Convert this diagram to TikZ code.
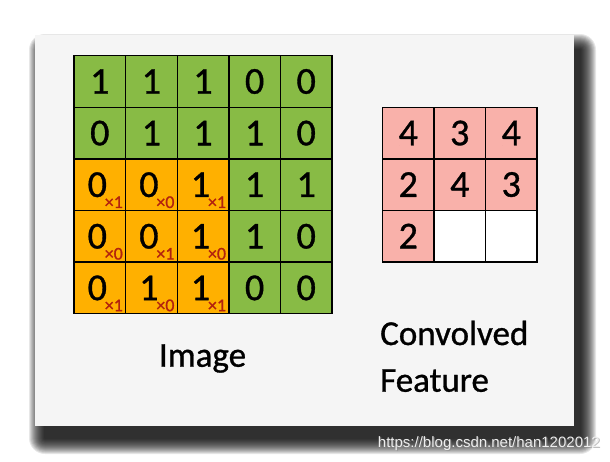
\documentclass[tikz,border=0pt]{standalone}
\usepackage{fontspec}
\setmainfont{Carlito}[FakeBold=0.9]
\newfontfamily\wmfont{Liberation Sans}
\definecolor{panelgray}{HTML}{F5F5F5}
\definecolor{cgreen}{HTML}{88BB45}
\definecolor{corange}{HTML}{FFB000}
\definecolor{cpink}{HTML}{F9B1AA}
\definecolor{kred}{HTML}{B2220E}
\definecolor{wmgray}{HTML}{EEEEEE}
\definecolor{wmshade}{HTML}{8A8A8A}
\tikzset{
  cellbase/.style={draw=black, line width=1.4pt, minimum size=51.6pt, inner sep=0pt, font=\fontsize{38}{40}\selectfont},
  gcell/.style={cellbase, fill=cgreen},
  ocell/.style={cellbase, fill=corange},
  pcell/.style={cellbase, fill=cpink, minimum size=51.5pt},
  wcell/.style={cellbase, fill=white, minimum size=51.5pt},
  ktext/.style={text=kred, font=\fontsize{18}{18}\selectfont, inner sep=0pt},
  lbl/.style={font=\fontsize{35}{38}\selectfont, inner sep=0pt},
  shadowlayer/.style={fill=black, fill opacity=0.095, draw=none},
  wmstyle/.style={font=\wmfont\fontsize{15}{15}\selectfont, anchor=base east, inner sep=0pt},
}
\begin{document}
\begin{tikzpicture}[x=1pt,y=-1pt]
\useasboundingbox (0,0) rectangle (610,461);
\fill[white] (0,0) rectangle (610,461);
% soft shadow (stacked translucent layers)
\foreach \k in {0,...,15}{
  \pgfmathsetmacro{\e}{16-\k}
  \fill[shadowlayer, rounded corners=\e pt] (45-\e,50-\e) rectangle (580+\e,438+\e);
}
% panel
\node[draw=none, fill=panelgray, minimum width=539pt, minimum height=391pt, inner sep=0pt]
      (panel) at (304.5,230.5) {};
% image grid
\def\ox{74}\def\oy{55.7}\def\cs{51.6}
\foreach \r/\row in {1/{1,1,1,0,0},2/{0,1,1,1,0},3/{0,0,1,1,1},4/{0,0,1,1,0},5/{0,1,1,0,0}}{
  \foreach \v [count=\c] in \row {
    \pgfmathsetmacro{\cx}{\ox+(\c-0.5)*\cs}
    \pgfmathsetmacro{\cy}{\oy+(\r-0.5)*\cs}
    \pgfmathtruncatemacro{\isor}{(\r>2)&&(\c<4)}
    \ifnum\isor=1
      \node[ocell] (i\r\c) at (\cx,\cy) {\hspace*{-5pt}\v};
    \else
      \node[gcell] (i\r\c) at (\cx,\cy) {\v};
    \fi
  }
}
% kernel weights
\foreach \r/\row in {3/{1,0,1},4/{0,1,0},5/{1,0,1}}{
  \foreach \k [count=\c] in \row {
    \node[ktext] (k\r\c) at ([xshift=14pt,yshift=-17.5pt]i\r\c.center) {\texttimes\k};
  }
}
% convolved feature grid
\def\px{382.5}\def\py{107.3}\def\ps{51.5}
\foreach \r/\row in {1/{4,3,4},2/{2,4,3},3/{2,-,-}}{
  \foreach \v [count=\c] in \row {
    \pgfmathsetmacro{\cx}{\px+(\c-0.5)*\ps}
    \pgfmathsetmacro{\cy}{\py+(\r-0.5)*\ps}
    \if\v-
      \node[wcell] (f\r\c) at (\cx,\cy) {};
    \else
      \node[pcell] (f\r\c) at (\cx,\cy) {\v};
    \fi
  }
}
% labels
\node[lbl, anchor=base] (imglbl) at (202.5,366.7) {Image};
\node[lbl, anchor=base west] (conv) at (380,345) {Convolved};
\node[lbl, anchor=base west] (feat) at (380,391.7) {Feature};
% watermark (light text with soft grey halo)
\node[wmstyle, text=wmshade, text opacity=0.55] (wmshadow) at (601.2,448.2) {https://blog.csdn.net/han1202012};
\node[wmstyle, text=wmgray] (wm) at (600,447) {https://blog.csdn.net/han1202012};
\end{tikzpicture}
\end{document}
